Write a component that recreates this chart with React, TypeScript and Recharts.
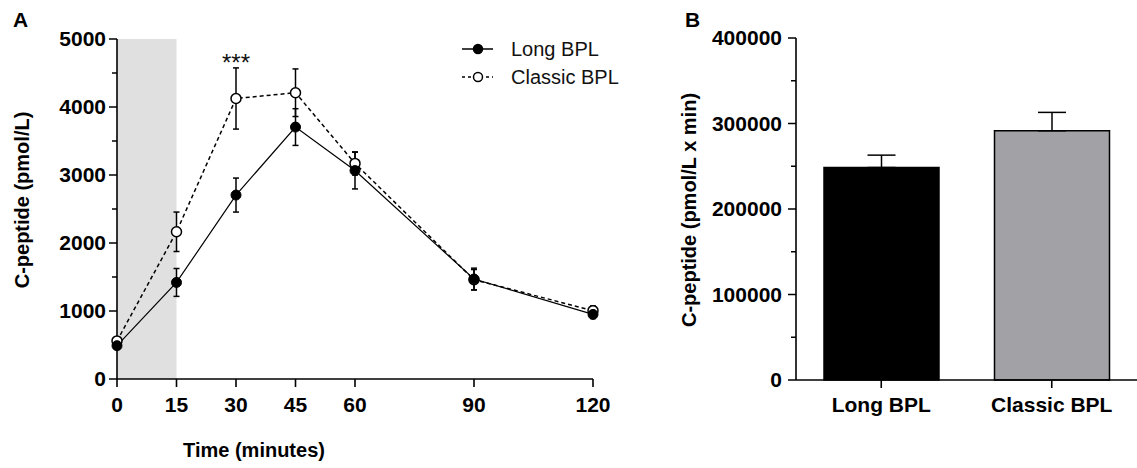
import React from "react";
import {
  LineChart,
  Line,
  XAxis,
  YAxis,
  ErrorBar,
  ReferenceArea,
  ReferenceDot,
  Legend,
  BarChart,
  Bar,
  Cell,
} from "recharts";

const FONT = '"Liberation Sans", Arial, Helvetica, sans-serif';

// Panel A: C-peptide during the meal test
const timePoints = [0, 15, 30, 45, 60, 90, 120];
const longBpl = [490, 1420, 2705, 3705, 3065, 1470, 950];
const longBplSem = [40, 205, 250, 270, 270, 160, 60];
const classicBpl = [560, 2165, 4125, 4210, 3170, 1460, 1005];
const classicBplSem = [40, 290, 450, 350, 170, 150, 70];
const xTicksA = [0, 15, 30, 45, 60, 90, 120];
const yTicksA = [0, 500, 1000, 1500, 2000, 2500, 3000, 3500, 4000, 4500, 5000];

// Panel B: area under the curve
const aucGroups = ["Long BPL", "Classic BPL"];
const aucValues = [248500, 291500];
const aucSem = [14500, 21500];
const aucColors = ["#000000", "#a2a1a5"];
const yTicksB = [0, 50000, 100000, 150000, 200000, 250000, 300000, 350000, 400000];

const lineData = timePoints.map((t, i) => ({
  time: t,
  long: longBpl[i],
  longErr: longBplSem[i],
  classic: classicBpl[i],
  classicErr: classicBplSem[i],
}));

const barData = aucGroups.map((g, i) => ({
  group: g,
  auc: aucValues[i],
  aucErr: [0, aucSem[i]],
}));

const tickFont = { fill: "#000", fontSize: 21, fontWeight: "bold", fontFamily: FONT };

// y tick with short minor ticks in between the labelled ones
function YTick(props: any) {
  const { y, payload, axisX, step, gap } = props;
  const major = payload.value % step === 0;
  return (
    <g>
      <line
        x1={axisX}
        x2={axisX - (major ? 8 : 5)}
        y1={y}
        y2={y}
        stroke="#000"
        strokeWidth={1.5}
      />
      {major && (
        <text x={axisX - gap} y={y} dy="0.355em" textAnchor="end" {...tickFont}>
          {payload.value}
        </text>
      )}
    </g>
  );
}

function LegendBox() {
  const rows = [
    { name: "Long BPL", dash: undefined, fill: "#000" },
    { name: "Classic BPL", dash: "3 3", fill: "#fff" },
  ];
  return (
    <svg width={200} height={60}>
      {rows.map((r, i) => (
        <g key={r.name} transform={`translate(0, ${13 + i * 28})`}>
          <line x1={7} x2={38} y1={0} y2={0} stroke="#000" strokeWidth={1.5} strokeDasharray={r.dash} />
          <circle cx={23} cy={0} r={4.5} fill={r.fill} stroke="#000" strokeWidth={1.5} />
          <text x={56} y={0} dy="0.355em" fontSize={20} fontFamily={FONT} fill="#111">
            {r.name}
          </text>
        </g>
      ))}
    </svg>
  );
}

export default function App() {
  return (
    <div style={{ position: "absolute", left: 0, top: 0, width: 1137, height: 468, background: "#fff" }}>
      <div style={{ position: "absolute", left: 0, top: 0 }}>
        <LineChart width={640} height={468} data={lineData} margin={{ top: 39, right: 47, bottom: 0, left: 0 }}>
          <ReferenceArea x1={0} x2={15} y1={0} y2={5000} fill="#e0e0e0" fillOpacity={1} stroke="none" />
          <XAxis
            dataKey="time"
            type="number"
            domain={[0, 120]}
            ticks={xTicksA}
            interval={0}
            height={89}
            tickSize={8}
            tickMargin={10}
            stroke="#000"
            strokeWidth={1.6}
            tick={tickFont}
          />
          <YAxis
            type="number"
            domain={[0, 5000]}
            ticks={yTicksA}
            interval={0}
            width={117}
            tickLine={false}
            stroke="#000"
            strokeWidth={1.6}
            tick={(p: any) => <YTick {...p} axisX={117} step={1000} gap={11} />}
          />
          <ReferenceDot
            x={30}
            y={4660}
            r={0}
            fill="none"
            stroke="none"
            label={{ value: "***", position: "center", fontSize: 24, fill: "#111", fontFamily: FONT }}
          />
          <Line
            dataKey="classic"
            stroke="#000"
            strokeWidth={1.5}
            strokeDasharray="4 3"
            dot={{ r: 5, fill: "#fff", stroke: "#000", strokeWidth: 1.5, strokeDasharray: "" }}
            isAnimationActive={false}
          >
            <ErrorBar dataKey="classicErr" width={3} stroke="#000" strokeWidth={1.5} direction="y" />
          </Line>
          <Line
            dataKey="long"
            stroke="#000"
            strokeWidth={1.2}
            dot={{ r: 5, fill: "#000", stroke: "#000", strokeWidth: 1 }}
            isAnimationActive={false}
          >
            <ErrorBar dataKey="longErr" width={3} stroke="#000" strokeWidth={1.5} direction="y" />
          </Line>
          <Legend
            layout="vertical"
            align="center"
            verticalAlign="middle"
            content={() => <LegendBox />}
            wrapperStyle={{ position: "absolute", left: 455, top: 36, width: 200, height: 60 }}
          />
        </LineChart>
      </div>

      <div style={{ position: "absolute", left: 680, top: 0 }}>
        <BarChart
          width={457}
          height={468}
          data={barData}
          margin={{ top: 38, right: 0, bottom: 0, left: 0 }}
          barCategoryGap={28}
        >
          <XAxis
            dataKey="group"
            height={88}
            tickSize={8}
            tickMargin={9}
            stroke="#000"
            strokeWidth={1.6}
            tick={tickFont}
          />
          <YAxis
            type="number"
            domain={[0, 400000]}
            ticks={yTicksB}
            interval={0}
            width={116}
            tickLine={false}
            stroke="#000"
            strokeWidth={1.6}
            tick={(p: any) => <YTick {...p} axisX={116} step={100000} gap={14} />}
          />
          <Bar dataKey="auc" stroke="#000" strokeWidth={1.5} isAnimationActive={false}>
            {barData.map((d, i) => (
              <Cell key={d.group} fill={aucColors[i]} />
            ))}
            <ErrorBar dataKey="aucErr" width={14} stroke="#000" strokeWidth={1.5} direction="y" />
          </Bar>
        </BarChart>
      </div>

      <svg
        width={1137}
        height={468}
        style={{ position: "absolute", left: 0, top: 0, pointerEvents: "none" }}
        fontFamily={FONT}
        fontWeight="bold"
        fill="#000"
      >
        <text x={13} y={27} fontSize={21}>A</text>
        <text x={685} y={27} fontSize={21}>B</text>
        <text x={254} y={457} fontSize={20} textAnchor="middle">Time (minutes)</text>
        <text transform="translate(29, 200) rotate(-90)" fontSize={20} textAnchor="middle">
          C-peptide (pmol/L)
        </text>
        <text transform="translate(696, 210) rotate(-90)" fontSize={20} textAnchor="middle">
          C-peptide (pmol/L x min)
        </text>
      </svg>
    </div>
  );
}
